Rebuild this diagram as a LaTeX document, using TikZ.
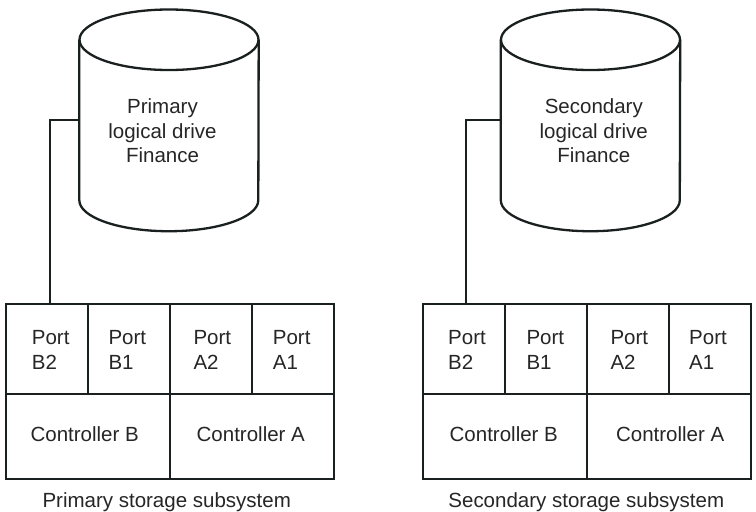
\documentclass[tikz,border=0pt]{standalone}
\usepackage{fontspec}
\setmainfont{Liberation Sans}
\definecolor{linec}{HTML}{1A2020}
\definecolor{textc}{HTML}{262626}
\begin{document}
\begin{tikzpicture}[x=1pt,y=-1pt,
  ln/.style={draw=linec,line width=2.3pt},
  cell/.style={ln,rectangle,inner sep=0,minimum width=82pt,minimum height=89.4pt},
  ctrl/.style={ln,rectangle,inner sep=0,minimum width=164pt,minimum height=85pt},
  body/.style={inner sep=0,minimum width=179pt,minimum height=160.25pt},
  txt/.style={text=textc,font=\fontsize{20.5}{24.5}\selectfont,inner sep=0},
]
\useasboundingbox[fill=white] (0,0) rectangle (756,512);

% ---------- Primary side ----------
\node[body] (drv1) at (169,119.9) {};
\draw[ln] (169,39.75) ellipse [x radius=89.5,y radius=30.25];
\draw[ln] (drv1.north west) -- (drv1.south west)
  arc[start angle=180,end angle=0,x radius=89.5,y radius=31] -- (drv1.north east);
\node[txt,align=center] (t1) at (162.5,131) {Primary\\logical drive\\Finance};

\node[cell] (pb2L) at (47,349) {};
\node[cell] (pb1L) at (129,349) {};
\node[cell] (pa2L) at (211,349) {};
\node[cell] (pa1L) at (293,349) {};
\node[ctrl] (cbL) at (88,436.2) {};
\node[ctrl] (caL) at (252,436.2) {};

\node[txt,align=left,anchor=west] at (31.7,349.7) {Port\\B2};
\node[txt,align=left,anchor=west] at (108.3,349.7) {Port\\B1};
\node[txt,align=left,anchor=west] at (193.3,349.7) {Port\\A2};
\node[txt,align=left,anchor=west] at (272.7,349.7) {Port\\A1};
\node[txt] at (84.7,433.8) {Controller B};
\node[txt] at (250.8,433.8) {Controller A};
\node[txt,anchor=base] (lab1) at (166.7,507.6) {Primary storage subsystem};

\draw[ln] (drv1.west) -| ([xshift=2.8pt]pb2L.north);

% ---------- Secondary side ----------
\node[body] (drv2) at (590.5,119.9) {};
\draw[ln] (590.5,39.75) ellipse [x radius=89.5,y radius=30.25];
\draw[ln] (drv2.north west) -- (drv2.south west)
  arc[start angle=180,end angle=0,x radius=89.5,y radius=31] -- (drv2.north east);
\node[txt,align=center] (t2) at (593.8,131) {Secondary\\logical drive\\Finance};

\node[cell] (pb2R) at (464,349) {};
\node[cell] (pb1R) at (546,349) {};
\node[cell] (pa2R) at (628,349) {};
\node[cell] (pa1R) at (710,349) {};
\node[ctrl] (cbR) at (505,436.2) {};
\node[ctrl] (caR) at (669,436.2) {};

\node[txt,align=left,anchor=west] at (448,349.7) {Port\\B2};
\node[txt,align=left,anchor=west] at (526.3,349.7) {Port\\B1};
\node[txt,align=left,anchor=west] at (610.3,349.7) {Port\\A2};
\node[txt,align=left,anchor=west] at (689,349.7) {Port\\A1};
\node[txt] at (503.8,433.8) {Controller B};
\node[txt] at (670.2,433.8) {Controller A};
\node[txt,anchor=base] (lab2) at (586.3,507.6) {Secondary storage subsystem};

\draw[ln] (drv2.west) -| ([xshift=2.3pt]pb2R.north);
\end{tikzpicture}
\end{document}
